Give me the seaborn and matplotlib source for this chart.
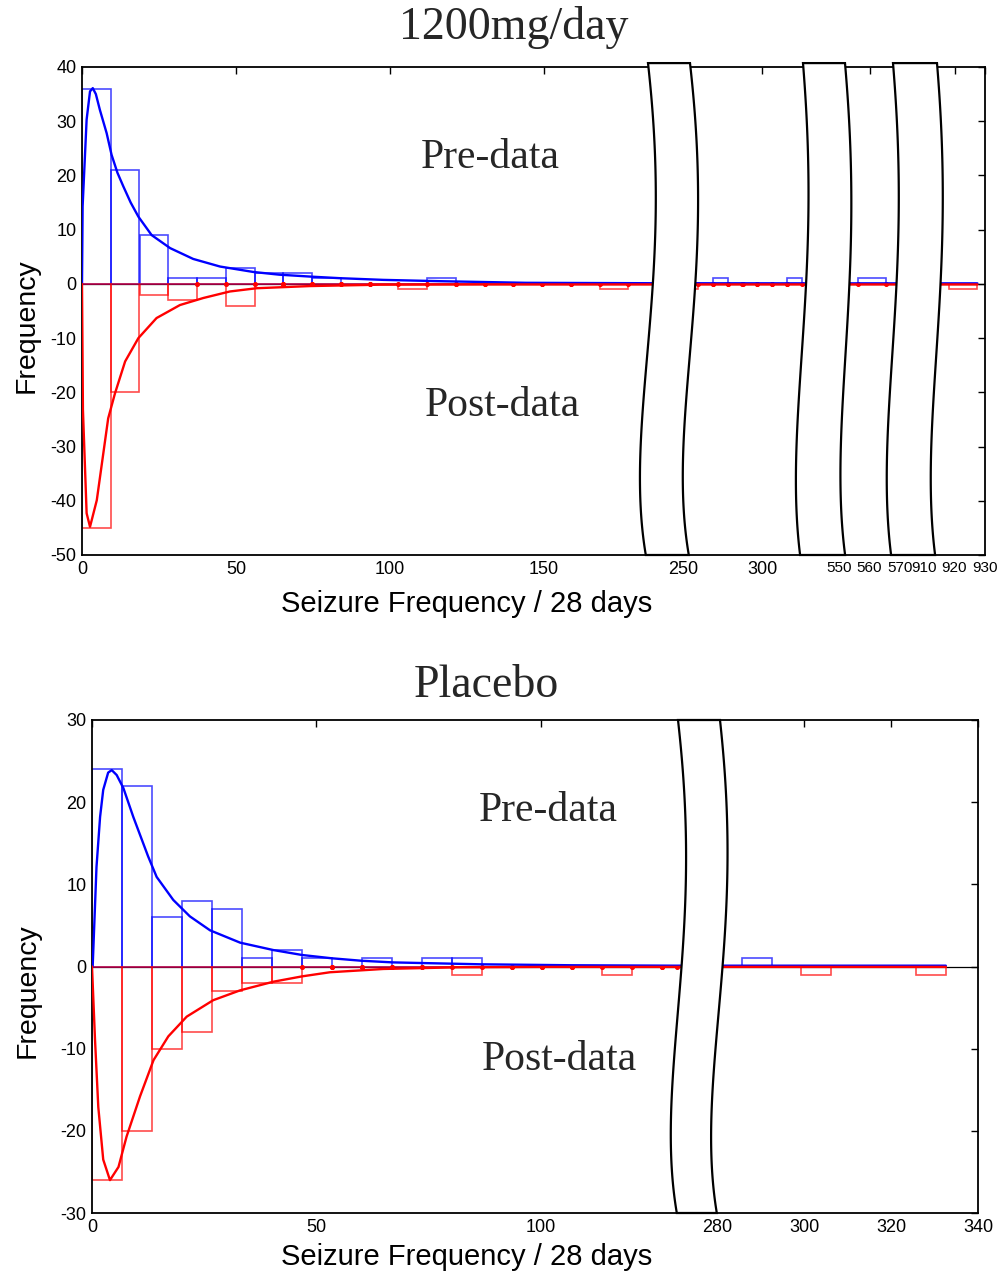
import numpy as np
import pandas as pd
import matplotlib
matplotlib.use("Agg")
import matplotlib.pyplot as plt
import seaborn as sns
from matplotlib.patches import Polygon
import matplotlib.transforms as mtransforms

sns.set_theme(style="white")
plt.rcParams['font.family'] = ['Liberation Sans', 'DejaVu Sans']
plt.rcParams['axes.unicode_minus'] = False

# ------------------------------------------------------------------ data
top_title = "1200mg/day"
bot_title = "Placebo"
pre_label = "Pre-data"
post_label = "Post-data"
x_label = "Seizure Frequency / 28 days"
y_label = "Frequency"

# top panel (1200 mg/day) histogram, bin width 9.33
top_w = 9.33
top_left_main = [0, 9.33, 18.67, 28, 37.33, 46.67, 56, 65.33, 74.67, 84, 93.33,
                 102.67, 112, 121.33, 130.67, 140, 149.33, 158.67, 168, 177.33]
top_pre_main = [36, 21, 9, 1, 1, 3, 2, 2, 1, 0, 0, 0, 1, 0, 0, 0, 0, 0, 0, 0]
top_post_main = [-45, -20, -2, -3, 0, -4, 0, 0, 0, 0, 0, -1, 0, 0, 0, 0, 0, 0, -1, 0]
top_left_tail = [250.4, 259.7, 269.0, 278.3, 287.7, 297.0, 306.3, 315.7, 556.1, 918.1]
top_pre_tail = [0, 0, 1, 0, 0, 0, 0, 1, 1, 0]
top_post_tail = [-1, 0, 0, 0, 0, 0, 0, 0, 0, -1]

top_pre_x = [0, 0.2, 1.5, 2.6, 3.5, 4.5, 5.8, 8.0, 9.6, 11.5, 13.4, 15.8, 18.3, 22.6, 28.6,
             36.1, 44.8, 55.6, 64, 74, 83.8, 97.8, 116, 144, 186, 330, 560, 927.5]
top_pre_y = [0, 14.3, 30.3, 35.5, 36.1, 35.0, 32.1, 27.8, 23.8, 20.5, 18.0, 15.0, 12.4, 9.0,
             6.6, 4.6, 3.2, 2.2, 1.7, 1.35, 1.05, 0.74, 0.5, 0.2, 0.12, 0.1, 0.1, 0.1]
top_post_x = [0, 0.3, 1.5, 2.6, 4.8, 8.5, 10.7, 14, 18.3, 24.2, 31.8, 39.4, 48, 56.7,
              74, 96.8, 130, 186, 330, 560, 927.5]
top_post_y = [0, -23.2, -42.3, -44.8, -39.9, -24.8, -20.2, -14.3, -10.0, -6.3, -3.9, -2.6,
              -1.4, -0.8, -0.4, -0.15, -0.1, -0.1, -0.1, -0.1, -0.1]

top_xticks = [0, 50, 100, 150, 250, 300, 550, 560, 570, 910, 920, 930]
top_xticklabels = ["0", "50", "100", "150", "250", "300", "550", "560", "570", "910", "920", "930"]
top_yticks = [40, 30, 20, 10, 0, -10, -20, -30, -40, -50]

# bottom panel (placebo) histogram, bin width 6.68
bot_w = 6.68
bot_left_main = [0, 6.68, 13.36, 20.04, 26.72, 33.4, 40.08, 46.76, 53.44, 60.12, 66.8,
                 73.48, 80.16, 86.84, 93.52, 100.2, 106.88, 113.56, 120.24, 126.92]
bot_pre_main = [24, 22, 6, 8, 7, 1, 2, 1, 0, 1, 0, 1, 1, 0, 0, 0, 0, 0, 0, 0]
bot_post_main = [-26, -20, -10, -8, -3, -2, -2, 0, 0, 0, 0, 0, -1, 0, 0, 0, 0, -1, 0, 0]
bot_w_tail = 6.9
bot_left_tail = [285.8, 299.2, 325.7]
bot_pre_tail = [1, 0, 0]
bot_post_tail = [0, -1, -1]

bot_pre_x = [0, 0.15, 1.0, 1.8, 2.5, 3.6, 4.4, 5.5, 7.0, 9.2, 12.5, 14.4, 18.1, 21.8, 26.3,
             33, 40.4, 46.8, 53.4, 60, 67, 75.3, 86.4, 107, 130, 280, 332.6]
bot_pre_y = [0, 0, 12.1, 18.2, 21.5, 23.6, 23.9, 23.3, 21.7, 18.2, 13.4, 10.9, 8.1, 6.1, 4.4,
             2.9, 2.0, 1.4, 1.0, 0.7, 0.5, 0.4, 0.27, 0.15, 0.1, 0.1, 0.1]
bot_post_x = [0, 0.67, 1.4, 2.5, 4.0, 5.9, 7.7, 10.7, 13.7, 17, 21.1, 27, 33, 40.4, 46.8,
              53, 59, 64.9, 81.2, 100, 130, 280, 332.6]
bot_post_y = [0, -8.9, -17.1, -23.5, -26, -24.4, -20.7, -15.8, -11.4, -8.5, -6.1, -4.1, -2.9,
              -1.85, -1.2, -0.7, -0.5, -0.3, -0.1, -0.05, -0.05, -0.05, -0.05]

bot_xticks = [0, 50, 100, 280, 300, 320, 340]
bot_xticklabels = ["0", "50", "100", "280", "300", "320", "340"]
bot_yticks = [30, 20, 10, 0, -10, -20, -30]

# ------------------------------------------------------------------ layout helpers
W, H = 1000, 1279
fig = plt.figure(figsize=(W / 100, H / 100), dpi=100)
fig.patch.set_facecolor("white")

BLUE = (0, 0, 1)
RED = (1, 0, 0)
SERIF = ['Liberation Serif', 'DejaVu Serif']
TICKFONT = ['Liberation Sans', 'DejaVu Sans']


def broken_scale(xs, ps):
    xs = np.asarray(xs, float)
    ps = np.asarray(ps, float)
    s0 = (ps[1] - ps[0]) / (xs[1] - xs[0])
    s1 = (ps[-1] - ps[-2]) / (xs[-1] - xs[-2])

    def fwd(x):
        x = np.asarray(x, float)
        y = np.interp(x, xs, ps)
        y = np.where(x < xs[0], ps[0] + (x - xs[0]) * s0, y)
        y = np.where(x > xs[-1], ps[-1] + (x - xs[-1]) * s1, y)
        return y

    def inv(p):
        p = np.asarray(p, float)
        y = np.interp(p, ps, xs)
        y = np.where(p < ps[0], xs[0] + (p - ps[0]) / s0, y)
        y = np.where(p > ps[-1], xs[-1] + (p - ps[-1]) / s1, y)
        return y
    return fwd, inv


def px_rect(l, t, r, b):
    return [l / W, 1 - b / H, (r - l) / W, (b - t) / H]


def draw_hist(ax, lefts, width, pre, post, dots=True):
    ax.bar(lefts, pre, width=width, align='edge', fill=False,
           edgecolor=BLUE + (0.7,), linewidth=1.2, zorder=2)
    ax.bar(lefts, post, width=width, align='edge', fill=False,
           edgecolor=RED + (0.7,), linewidth=1.2, zorder=2)
    if dots:
        zl = [l for l, v in zip(lefts, post) if v == 0]
        dx = zl + [l + width for l in zl]
        ax.plot(dx, [0] * len(dx), 'o', color=RED, ms=2.6, zorder=3)


# smooth S-shaped profile of the break lines (t = 0 top, 1 bottom)
_pc = np.polyfit([0, 0.25, 0.55, 0.85, 1.0], [0, 1.0, 0.2, -0.9, -0.15], 4)


def draw_band(ax, inv, ltop, lbot, rtop, rbot, amp, ytop=1.0):
    t = np.linspace(0, 1, 120)
    prof = np.polyval(_pc, t)
    lx = ltop + (lbot - ltop) * t + amp * prof
    rx = rtop + (rbot - rtop) * t + amp * prof
    yy = ytop - ytop * t
    trans = mtransforms.blended_transform_factory(ax.transData, ax.transAxes)
    verts = np.column_stack([np.concatenate([inv(lx), inv(rx[::-1])]),
                             np.concatenate([yy, yy[::-1]])])
    poly = Polygon(verts, closed=True, facecolor='white', edgecolor='black',
                   linewidth=1.6, transform=trans, zorder=10, clip_on=False)
    ax.add_patch(poly)


def style_axes(ax, xticks, xlabels, yticks, small_from=None):
    ax.set_xticks(xticks)
    ax.set_xticklabels(xlabels, family=TICKFONT, fontsize=13)
    if small_from is not None:
        for lab, v in zip(ax.get_xticklabels(), xticks):
            if v >= small_from:
                lab.set_fontsize(11)
    ax.set_yticks(yticks)
    ax.set_yticklabels([str(v) for v in yticks], family=TICKFONT, fontsize=13)
    ax.tick_params(direction='in', top=True, right=True, length=5, width=1,
                   colors='black', pad=4)
    for s in ax.spines.values():
        s.set_color('black')
        s.set_linewidth(1.3)
        s.set_visible(True)
    ax.axhline(0, color='black', lw=0.9, zorder=1.5)
    ax.set_facecolor('white')
    ax.grid(False)


# ------------------------------------------------------------------ top panel
ax1 = fig.add_axes(px_rect(82, 67, 985, 555))
f1, i1 = broken_scale([0, 186, 250, 327.2, 550, 570, 910, 930],
                      [82, 655, 683, 805, 839, 900, 924, 985])
ax1.set_xscale('function', functions=(f1, i1))
draw_hist(ax1, top_left_main + top_left_tail, top_w,
          top_pre_main + top_pre_tail, top_post_main + top_post_tail)
sns.lineplot(x=top_pre_x, y=top_pre_y, ax=ax1, color=BLUE, lw=1.7, sort=False,
             estimator=None, zorder=4)
sns.lineplot(x=top_post_x, y=top_post_y, ax=ax1, color=RED, lw=1.7, sort=False,
             estimator=None, zorder=5)
ax1.set_xlim(0, 930)
ax1.set_ylim(-50, 40)
style_axes(ax1, top_xticks, top_xticklabels, top_yticks, small_from=550)
draw_band(ax1, i1, 648, 647, 690, 690, 8, ytop=1.008)
draw_band(ax1, i1, 803, 801, 845, 846, 6, ytop=1.008)
draw_band(ax1, i1, 893, 892, 937, 936, 6, ytop=1.008)
ax1.text(0.478, 1.080, top_title, transform=ax1.transAxes, ha='center', va='center',
         family=SERIF, fontsize=33)
ax1.text(0.452, 0.8135, pre_label, transform=ax1.transAxes, ha='center', va='center',
         family=SERIF, fontsize=30, zorder=12)
ax1.text(0.465, 0.305, post_label, transform=ax1.transAxes, ha='center', va='center',
         family=SERIF, fontsize=30, zorder=12)
ax1.set_xlabel(x_label, fontsize=21, color='black')
ax1.xaxis.set_label_coords(0.4264, -0.100)
ax1.set_ylabel(y_label, fontsize=20.5, color='black')
ax1.yaxis.set_label_coords(-0.061, 0.471)
ax1.xaxis.label.set_va('center')
ax1.yaxis.label.set_va('center')

# ------------------------------------------------------------------ bottom panel
ax2 = fig.add_axes(px_rect(92, 720, 978, 1213))
f2, i2 = broken_scale([0, 130, 280, 340], [92, 675.7, 717, 978])
ax2.set_xscale('function', functions=(f2, i2))
draw_hist(ax2, bot_left_main, bot_w, bot_pre_main, bot_post_main, dots=True)
draw_hist(ax2, bot_left_tail, bot_w_tail, bot_pre_tail, bot_post_tail, dots=False)
sns.lineplot(x=bot_pre_x, y=bot_pre_y, ax=ax2, color=BLUE, lw=1.7, sort=False,
             estimator=None, zorder=4)
sns.lineplot(x=bot_post_x, y=bot_post_y, ax=ax2, color=RED, lw=1.7, sort=False,
             estimator=None, zorder=5)
ax2.set_xlim(0, 340)
ax2.set_ylim(-30, 30)
style_axes(ax2, bot_xticks, bot_xticklabels, bot_yticks)
draw_band(ax2, i2, 678, 678, 720, 718, 8, ytop=1.0)
ax2.text(0.445, 1.069, bot_title, transform=ax2.transAxes, ha='center', va='center',
         family=SERIF, fontsize=33)
ax2.text(0.515, 0.815, pre_label, transform=ax2.transAxes, ha='center', va='center',
         family=SERIF, fontsize=30, zorder=12)
ax2.text(0.528, 0.310, post_label, transform=ax2.transAxes, ha='center', va='center',
         family=SERIF, fontsize=30, zorder=12)
ax2.set_xlabel(x_label, fontsize=21, color='black')
ax2.xaxis.set_label_coords(0.4233, -0.089)
ax2.set_ylabel(y_label, fontsize=20.5, color='black')
ax2.yaxis.set_label_coords(-0.073, 0.452)
ax2.xaxis.label.set_va('center')
ax2.yaxis.label.set_va('center')

fig.savefig("out.png", dpi=100, facecolor='white')
